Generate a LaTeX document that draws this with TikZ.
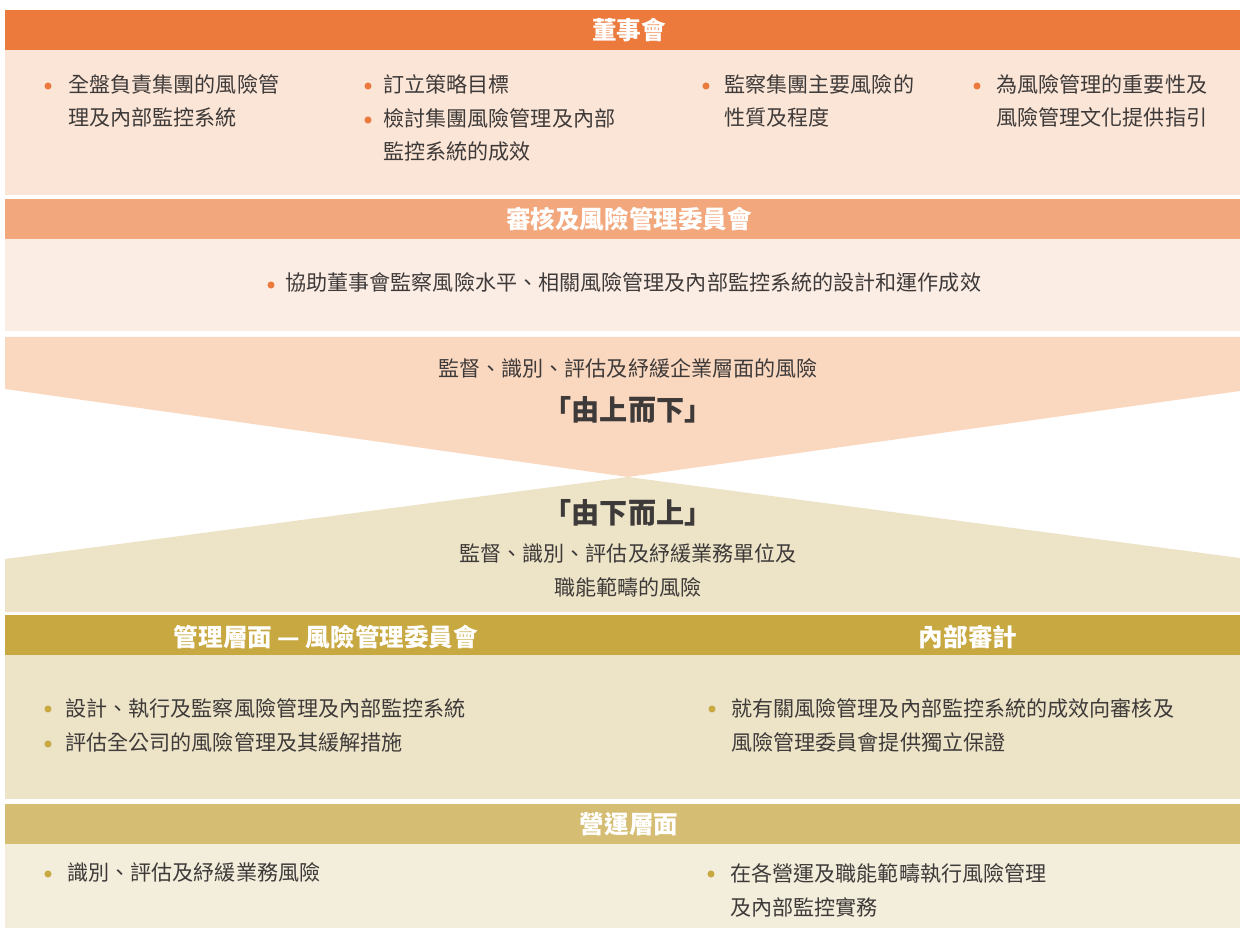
\documentclass[tikz,border=0pt]{standalone}
\usepackage{fontspec}
\setmainfont{Noto Sans CJK TC}
\definecolor{ink}{RGB}{62,58,57}
\definecolor{boardhead}{RGB}{236,122,60}
\definecolor{boardbg}{RGB}{251,229,214}
\definecolor{audithead}{RGB}{242,167,124}
\definecolor{auditbg}{RGB}{252,237,228}
\definecolor{peach}{RGB}{250,216,192}
\definecolor{sand}{RGB}{237,228,200}
\definecolor{goldhead}{RGB}{200,168,64}
\definecolor{opshead}{RGB}{213,190,116}
\definecolor{opsbg}{RGB}{243,237,219}
\begin{document}
\begin{tikzpicture}[x=0.02cm,y=-0.02cm,
  head/.style={text=white,font=\fontsize{14}{17}\selectfont\bfseries,inner sep=0pt},
  item/.style={text=ink,font=\fontsize{12}{19.3}\selectfont,align=left,anchor=base west,inner sep=0pt},
  flow/.style={text=ink,font=\fontsize{12}{19.3}\selectfont,align=center,inner sep=0pt},
  motto/.style={text=ink,font=\fontsize{16}{19}\selectfont\bfseries,inner sep=0pt}]
\useasboundingbox (0,0) rectangle (1240,928);

\fill[boardhead] (5,10) rectangle (1240,50);
\fill[boardbg] (5,50) rectangle (1240,195);
\node[head] (board) at (629,30) {董事會};
\foreach \p in {(48,86),(368,86),(368,120),(706,86),(977,86)}
  \fill[boardhead] \p circle[radius=2pt];
\node[item] (b1) at (68,126) {全盤負責集團的風險管\\理及內部監控系統};
\node[item] (b2) at (383,160) {訂立策略目標\\檢討集團風險管理及內部\\監控系統的成效};
\node[item] (b3) at (724,126) {監察集團主要風險的\\性質及程度};
\node[item] (b4) at (996,126) {為風險管理的重要性及\\風險管理文化提供指引};

\fill[audithead] (5,199) rectangle (1240,239);
\fill[auditbg] (5,239) rectangle (1240,331);
\node[head] (committee) at (629,219) {審核及風險管理委員會};
\fill[boardhead] (271,285) circle[radius=2pt];
\node[item] (c1) at (285,291) {協助董事會監察風險水平、相關風險管理及內部監控系統的設計和運作成效};

\fill[peach] (5,337) -- (1240,337) -- (1240,391) -- (628,477) -- (5,389) -- cycle;
\fill[sand] (628,477) -- (1240,558) -- (1240,612) -- (5,612) -- (5,559) -- cycle;
\node[flow] (down) at (628,368) {監督、識別、評估及紓緩企業層面的風險};
\node[motto] (topdown) at (628,410) {「由上而下」};
\node[motto] (bottomup) at (628,513) {「由下而上」};
\node[flow] (up) at (628,570) {監督、識別、評估及紓緩業務單位及\\職能範疇的風險};

\fill[goldhead] (5,615) rectangle (1240,655);
\fill[sand] (5,655) rectangle (1240,799);
\node[head] (mgmt) at (326,637) {管理層面 — 風險管理委員會};
\node[head] (internal) at (968,637) {內部審計};
\foreach \p in {(48,709),(48,744),(712,709)}
  \fill[goldhead] \p circle[radius=2pt];
\node[item] (m1) at (65,750) {設計、執行及監察風險管理及內部監控系統\\評估全公司的風險管理及其緩解措施};
\node[item] (a1) at (731,750) {就有關風險管理及內部監控系統的成效向審核及\\風險管理委員會提供獨立保證};

\fill[opshead] (5,804) rectangle (1240,844);
\fill[opsbg] (5,844) rectangle (1240,928);
\node[head] (ops) at (629,824) {營運層面};
\foreach \p in {(48,874),(711,874)}
  \fill[goldhead] \p circle[radius=2pt];
\node[item] (o1) at (67,880) {識別、評估及紓緩業務風險};
\node[item] (o2) at (730,915) {在各營運及職能範疇執行風險管理\\及內部監控實務};
\end{tikzpicture}
\end{document}
